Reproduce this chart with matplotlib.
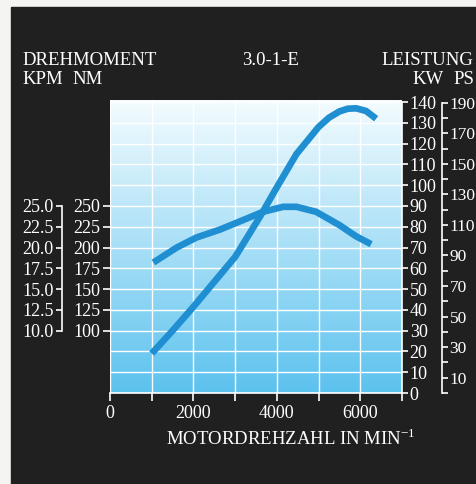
import numpy as np
import matplotlib.pyplot as plt
from matplotlib.colors import LinearSegmentedColormap
from matplotlib.patches import Rectangle
from matplotlib.ticker import FixedLocator, FuncFormatter

plt.rcParams['font.family'] = ['Liberation Serif', 'DejaVu Serif']
plt.rcParams['mathtext.fontset'] = 'custom'
plt.rcParams['mathtext.rm'] = 'Liberation Serif'

## data
rpm_power = [1000, 1500, 2000, 2500, 3000, 3600, 4000, 4470, 5000, 5250, 5500, 5700, 5900, 6140, 6380]
power_kw = [19, 30, 41.5, 53.5, 65.5, 85, 99, 115, 128, 132.5, 135.5, 136.8, 137, 135.7, 132]
rpm_torque = [1040, 1600, 2070, 2630, 3190, 3670, 4150, 4470, 4940, 5500, 5900, 6260]
torque_nm = [182, 200, 212, 221.5, 233, 243, 249, 249, 243, 227, 213.5, 204]

rpm_ticks = [0, 1000, 2000, 3000, 4000, 5000, 6000, 7000]
kw_ticks = list(range(0, 141, 10))
nm_ticks = [100, 125, 150, 175, 200, 225, 250]
kpm_ticks = [10.0, 12.5, 15.0, 17.5, 20.0, 22.5, 25.0]
ps_major = list(range(10, 191, 20))
ps_minor = list(range(0, 181, 20))

W, H = 477, 484
WHITE = 'white'
BG = '#202020'
LINE = '#1f8fd2'
FS = 13


def fx(px):
    return px / W


def fy(py):
    return (H - py) / H


def nm_to_kw(n):
    return (np.asarray(n) - 25) / 2.5


def kw_to_nm(k):
    return np.asarray(k) * 2.5 + 25


fig = plt.figure(figsize=(W / 100, H / 100), dpi=100, facecolor='#f4f4f2')
fig.add_artist(Rectangle((fx(11), 0), 1, fy(7), transform=fig.transFigure,
                         color=BG, zorder=-10))

ax = fig.add_axes([fx(110), fy(393), fx(292), 293 / H])
ax.set_xlim(0, 7000)
ax.set_ylim(0, 141)

# background gradient
cmap = LinearSegmentedColormap.from_list('bg', ['#5cc2ee', '#f4fcff'])
ax.imshow(np.linspace(0, 1, 256).reshape(-1, 1), extent=[0, 7000, 0, 141],
          aspect='auto', cmap=cmap, origin='lower', zorder=0)
ax.set_axisbelow(True)
ax.grid(True, color=WHITE, lw=1.0)

ax.plot(rpm_power, power_kw, color=LINE, lw=4.8, solid_capstyle='butt',
        solid_joinstyle='round', zorder=3)
ax.plot(rpm_torque, nm_to_kw(torque_nm), color=LINE, lw=4.8,
        solid_capstyle='butt', solid_joinstyle='round', zorder=3)

ax.spines['top'].set_visible(False)
ax.spines['left'].set_visible(False)
ax.spines['bottom'].set_color(WHITE)
ax.spines['bottom'].set_linewidth(1.2)
ax.spines['bottom'].set_bounds(0, 7000)
ax.spines['right'].set_color(WHITE)
ax.spines['right'].set_linewidth(1.2)
ax.spines['right'].set_bounds(0, 140)

ax.xaxis.set_major_locator(FixedLocator(rpm_ticks))
ax.xaxis.set_major_formatter(FuncFormatter(lambda v, p: '%d' % v if v % 2000 == 0 else ''))
ax.tick_params(axis='x', direction='out', length=6, width=1.2, color=WHITE,
               labelcolor=WHITE, labelsize=FS, pad=3)

ax.yaxis.tick_right()
ax.yaxis.set_major_locator(FixedLocator(kw_ticks))
ax.tick_params(axis='y', direction='out', length=4.5, width=1.2, color=WHITE,
               labelcolor=WHITE, labelsize=FS, pad=1)

# NM axis (left edge of plot)
nm = ax.secondary_yaxis('left', functions=(kw_to_nm, nm_to_kw))
nm.set_yticks(nm_ticks)
nm.spines['left'].set_visible(False)
nm.tick_params(direction='out', length=5, width=1.2, color=WHITE,
               labelcolor=WHITE, labelsize=FS, pad=2)

# KPM axis
kpm = ax.secondary_yaxis(-0.164, functions=(lambda k: np.asarray(k) * 0.25 + 2.5,
                                             lambda p: (np.asarray(p) - 2.5) / 0.25))
kpm.set_yticks(kpm_ticks)
kpm.yaxis.set_major_formatter(FuncFormatter(lambda v, p: '%.1f' % v))
kpm.spines['left'].set_color(WHITE)
kpm.spines['left'].set_linewidth(1.2)
kpm.spines['left'].set_bounds(10, 25)
kpm.tick_params(direction='out', length=4, width=1.2, color=WHITE,
                labelcolor=WHITE, labelsize=FS, pad=2)

# PS axis
ps = ax.secondary_yaxis(1.137, functions=(lambda k: np.asarray(k) * 1.36,
                                           lambda p: np.asarray(p) / 1.36))
ps.set_yticks(ps_major)
ps.set_yticks(ps_minor, minor=True)
ps.spines['right'].set_color(WHITE)
ps.spines['right'].set_linewidth(1.2)
ps.spines['right'].set_bounds(0, 190)
ps.tick_params(which='both', direction='out', length=4.5, width=1.2, color=WHITE,
               labelcolor=WHITE, labelsize=12.5, pad=1)

# headings
tkw = dict(color=WHITE, fontsize=13.5, va='baseline')
fig.text(fx(22), fy(65), 'DREHMOMENT', ha='left', **tkw)
fig.text(fx(22), fy(84), 'KPM', ha='left', **tkw)
fig.text(fx(72), fy(84), 'NM', ha='left', **tkw)
fig.text(fx(242), fy(65), '3.0-1-E', ha='left', **tkw)
fig.text(fx(473), fy(65), 'LEISTUNG', ha='right', **tkw)
fig.text(fx(412), fy(84), 'KW', ha='left', **tkw)
fig.text(fx(453), fy(84), 'PS', ha='left', **tkw)
fig.text(fx(166), fy(445), 'MOTORDREHZAHL IN MIN$^{-1}$', ha='left', **tkw)

fig.savefig('out.png', dpi=100, facecolor=fig.get_facecolor())
